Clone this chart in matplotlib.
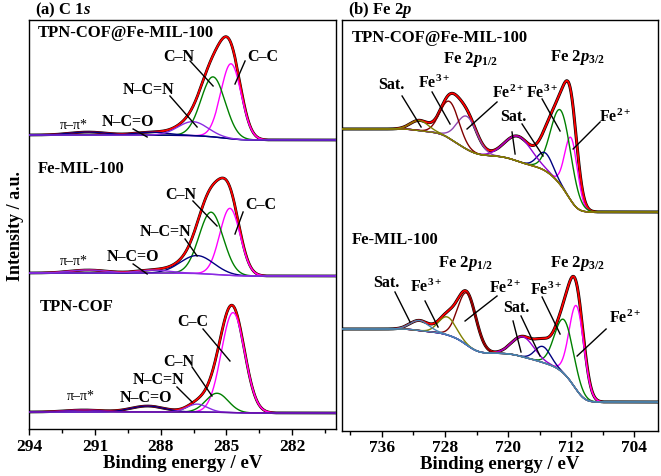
import numpy as np
import matplotlib
matplotlib.use('Agg')
import matplotlib.pyplot as plt
from matplotlib.ticker import MultipleLocator

plt.rcParams['font.family'] = ['Liberation Serif', 'DejaVu Serif']
plt.rcParams['font.weight'] = 'bold'
plt.rcParams['mathtext.fontset'] = 'custom'
plt.rcParams['mathtext.rm'] = 'Liberation Serif:bold'
plt.rcParams['mathtext.it'] = 'Liberation Serif:italic:bold'
plt.rcParams['mathtext.bf'] = 'Liberation Serif:bold'

# ---------------- data: C 1s ----------------
c1s_names = ['TPN-COF@Fe-MIL-100', 'Fe-MIL-100', 'TPN-COF']
c1s_labels = ['C–C', 'C–N', 'N–C=N', 'N–C=O', 'π–π*']
c1s_centers = [[284.79, 285.61, 286.53, 288.4, 291.3],
               [284.84, 285.70, 286.34, 288.3, 291.3],
               [284.70, 285.43, 286.34, 288.6, 291.5]]
c1s_heights = [[75, 60, 14, 3, 3],
               [67, 62, 18, 3, 3],
               [100, 19, 8, 6, 2]]
c1s_fwhm = [[1.1, 1.3, 1.6, 1.8, 2.0],
            [1.1, 1.3, 1.8, 1.8, 2.0],
            [1.25, 1.2, 1.1, 1.8, 2.0]]
c1s_bg_high = [294.5, 156.5, 17.5]
c1s_bg_low = [289.5, 153.5, 16.5]
c1s_ticks = [294, 291, 288, 285, 282]

# ---------------- data: Fe 2p ----------------
fe_names = ['TPN-COF@Fe-MIL-100', 'Fe-MIL-100']
fe_labels = ['Fe2+ 2p3/2', 'Fe3+ 2p3/2', 'Sat.', 'Sat.', 'Fe 2p1/2 a', 'Fe 2p1/2 b', 'Sat.']
fe_centers = [[712.0, 713.3, 715.3, 718.7, 725.2, 727.4, 731.2],
              [711.3, 712.9, 715.6, 718.1, 725.2, 727.7, 731.2]]
fe_heights = [[63, 75, 18, 25, 33, 37, 10],
              [84, 54, 16, 20, 52, 18, 10]]
fe_fwhm = [[1.9, 3.0, 2.3, 4.0, 3.0, 2.8, 2.7],
           [2.2, 2.8, 2.3, 3.3, 2.75, 2.6, 2.8]]
fe_bg_high = [302, 102]
fe_bg_low = [219, 29]
fe_ticks = [736, 728, 720, 712, 704]


def gauss(x, c, h, w):
    return h * np.exp(-4 * np.log(2) * ((x - c) / w) ** 2)


def shirley(x, total, low, high):
    # x ascending: low binding energy first
    cum = np.cumsum(total)
    cum = cum / cum[-1]
    return low + (high - low) * cum


fig = plt.figure(figsize=(6.61, 4.77), dpi=100)
axL = fig.add_axes([0.0443, 0.0975, 0.4640, 0.8585])
axR = fig.add_axes([0.5179, 0.0943, 0.4776, 0.8617])

# ---------- left panel ----------
EL = np.linspace(280, 294, 1400)
c1s_colors = [['#ff00ff', '#008000', '#8a2be2', '#000080', '#000080'],
              ['#ff00ff', '#008000', '#000080', '#8a2be2', '#8a2be2'],
              ['#ff00ff', '#008000', '#8a2be2', '#000080', '#6a0dad']]
c1s_order = [[0, 1, 3, 4, 2], [0, 1, 2, 3, 4], [0, 1, 3, 2, 4]]
for s in range(3):
    comps = [gauss(EL, c, h, w) for c, h, w in zip(c1s_centers[s], c1s_heights[s], c1s_fwhm[s])]
    tot = np.sum(comps, axis=0)
    bg = shirley(EL, tot, c1s_bg_low[s], c1s_bg_high[s])
    axL.plot(EL, bg + tot, color='black', lw=2.0, zorder=2)
    axL.plot(EL, bg + tot, color='red', lw=1.3, zorder=3)
    for i in c1s_order[s]:
        axL.plot(EL, bg + comps[i], color=c1s_colors[s][i], lw=1.0, zorder=4)

axL.set_xlim(294, 280)
axL.set_ylim(0, 409.5)
axL.set_yticks([])
axL.set_xticks(c1s_ticks)
axL.xaxis.set_minor_locator(MultipleLocator(1.5))

fs_lab = 11.5
tkw = dict(fontsize=fs_lab, fontweight='bold', ha='left', va='center')
nkw = dict(fontsize=12, fontweight='bold', ha='left', va='center')
pkw = dict(fontsize=10, fontweight='normal', ha='left', va='center')
# spectrum 1 labels
axL.text(293.6, 397.5, c1s_names[0], **nkw)
axL.text(287.89, 373.5, 'C–N', **tkw)
axL.text(284.06, 373.5, 'C–C', **tkw)
axL.text(289.72, 340.5, 'N–C=N', **tkw)
axL.text(290.68, 308.5, 'N–C=O', **tkw)
axL.text(292.6, 304.5, 'π–π*', **pkw)
for (x0, y0, x1, y1) in [(286.66, 368.5, 285.61, 343.5), (284.15, 368.5, 284.61, 345.5),
                         (287.58, 333.5, 286.34, 302.5), (289.26, 300.5, 288.62, 292.5)]:
    axL.plot([x0, x1], [y0, y1], color='black', lw=1.0, zorder=6)
# spectrum 2 labels
axL.text(293.6, 261.5, c1s_names[1], **nkw)
axL.text(287.8, 235.5, 'C–N', **tkw)
axL.text(284.15, 225.5, 'C–C', **tkw)
axL.text(288.94, 198.5, 'N–C=N', **tkw)
axL.text(290.45, 173.5, 'N–C=O', **tkw)
axL.text(292.6, 168.5, 'π–π*', **pkw)
for (x0, y0, x1, y1) in [(286.53, 228.5, 285.43, 203.5), (284.24, 217.5, 284.61, 195.5),
                         (286.89, 190.5, 286.34, 173.5), (289.26, 165.5, 288.62, 155.5)]:
    axL.plot([x0, x1], [y0, y1], color='black', lw=1.0, zorder=6)
# spectrum 3 labels
axL.text(293.51, 123.5, c1s_names[2], **nkw)
axL.text(287.26, 108.5, 'C–C', **tkw)
axL.text(287.89, 68.5, 'C–N', **tkw)
axL.text(289.26, 50.5, 'N–C=N', **tkw)
axL.text(289.85, 32.5, 'N–C=O', **tkw)
axL.text(292.28, 33.5, 'π–π*', **pkw)
for (x0, y0, x1, y1) in [(286.07, 100.5, 284.84, 68.5), (286.57, 62.5, 285.66, 33.5),
                         (287.26, 42.5, 286.57, 27.5)]:
    axL.plot([x0, x1], [y0, y1], color='black', lw=1.0, zorder=6)

# ---------- right panel ----------
ER = np.linspace(701, 741, 2000)
fe_colors = [['#ff00ff', '#008000', '#000080', '#9400d3', '#8e44ad', '#800000', '#808000'],
             ['#ff00ff', '#008000', '#000080', '#9400d3', '#800000', '#808000', '#4682b4']]
for s in range(2):
    comps = [gauss(ER, c, h, w) for c, h, w in zip(fe_centers[s], fe_heights[s], fe_fwhm[s])]
    tot = np.sum(comps, axis=0)
    bg = shirley(ER, tot, fe_bg_low[s], fe_bg_high[s])
    axR.plot(ER, bg + tot, color='black', lw=2.2, zorder=2)
    axR.plot(ER, bg + tot, color='red', lw=1.3, zorder=3)
    for i in range(len(comps)):
        axR.plot(ER, bg + comps[i], color=fe_colors[s][i], lw=1.0, zorder=4)
    axR.plot(ER, bg, color=fe_colors[s][-1], lw=1.0, zorder=4)

axR.set_xlim(741, 701)
axR.set_ylim(0, 411)
axR.set_yticks([])
axR.set_xticks(fe_ticks)
axR.xaxis.set_minor_locator(MultipleLocator(4))

fsR = 12
rkw = dict(fontsize=fsR, fontweight='bold', ha='left', va='center')
skw = dict(fontsize=11.5, fontweight='bold', ha='left', va='center')
# spectrum 1
axR.text(739.77, 394, fe_names[0], **nkw)
axR.text(728.24, 372, r'Fe 2$p_{1/2}$', **rkw)
axR.text(714.68, 374, r'Fe 2$p_{3/2}$', **rkw)
axR.text(736.48, 347, 'Sat.', **skw)
axR.text(731.41, 349, r'Fe$^{3+}$', **skw)
axR.text(722.03, 339, r'Fe$^{2+}$', **skw)
axR.text(717.72, 339, r'Fe$^{3+}$', **skw)
axR.text(721.01, 315, 'Sat.', **skw)
axR.text(708.47, 315, r'Fe$^{2+}$', **skw)
for (x0, y0, x1, y1) in [(733.43, 335, 731.02, 304), (729.63, 339, 727.35, 307),
                         (721.40, 329, 725.20, 302), (719.5, 299, 719.11, 277),
                         (718.23, 307, 715.57, 275), (715.69, 332, 713.41, 300),
                         (708.34, 309, 711.76, 282)]:
    axR.plot([x0, x1], [y0, y1], color='black', lw=1.0, zorder=6)
# spectrum 2
axR.text(739.77, 192, fe_names[1], **nkw)
axR.text(728.87, 169, r'Fe 2$p_{1/2}$', **rkw)
axR.text(714.68, 169, r'Fe 2$p_{3/2}$', **rkw)
axR.text(737.11, 149, 'Sat.', **skw)
axR.text(732.42, 145, r'Fe$^{3+}$', **skw)
axR.text(722.41, 144, r'Fe$^{2+}$', **skw)
axR.text(720.63, 124, 'Sat.', **skw)
axR.text(717.21, 142, r'Fe$^{3+}$', **skw)
axR.text(707.2, 114, r'Fe$^{2+}$', **skw)
for (x0, y0, x1, y1) in [(734.33, 139, 732.42, 109), (730.52, 130, 728.87, 104),
                         (721.4, 135, 725.45, 110), (719.37, 110, 718.36, 79),
                         (718.36, 115, 715.95, 75), (715.69, 134, 713.41, 97),
                         (707.58, 102, 711.25, 75)]:
    axR.plot([x0, x1], [y0, y1], color='black', lw=1.0, zorder=6)

for ax in (axL, axR):
    for sp in ax.spines.values():
        sp.set_linewidth(1.0)
    ax.tick_params(axis='x', which='major', direction='out', length=4, width=1.0,
                   labelsize=12.5, pad=2)
    ax.tick_params(axis='x', which='minor', direction='out', length=3, width=1.0)
    for lab in ax.get_xticklabels():
        lab.set_fontweight('bold')
    ax.set_xlabel('Binding energy / eV', fontsize=13.5, fontweight='bold', labelpad=0)

axL.set_ylabel('Intensity / a.u.', fontsize=13, fontweight='bold', labelpad=4)
fig.text(35 / 661, 1 - 10 / 477, r'(a) C 1$s$', fontsize=12, fontweight='bold',
         ha='left', va='center')
fig.text(348 / 661, 1 - 10 / 477, r'(b) Fe 2$p$', fontsize=12, fontweight='bold',
         ha='left', va='center')

fig.savefig('out.png', dpi=100)
